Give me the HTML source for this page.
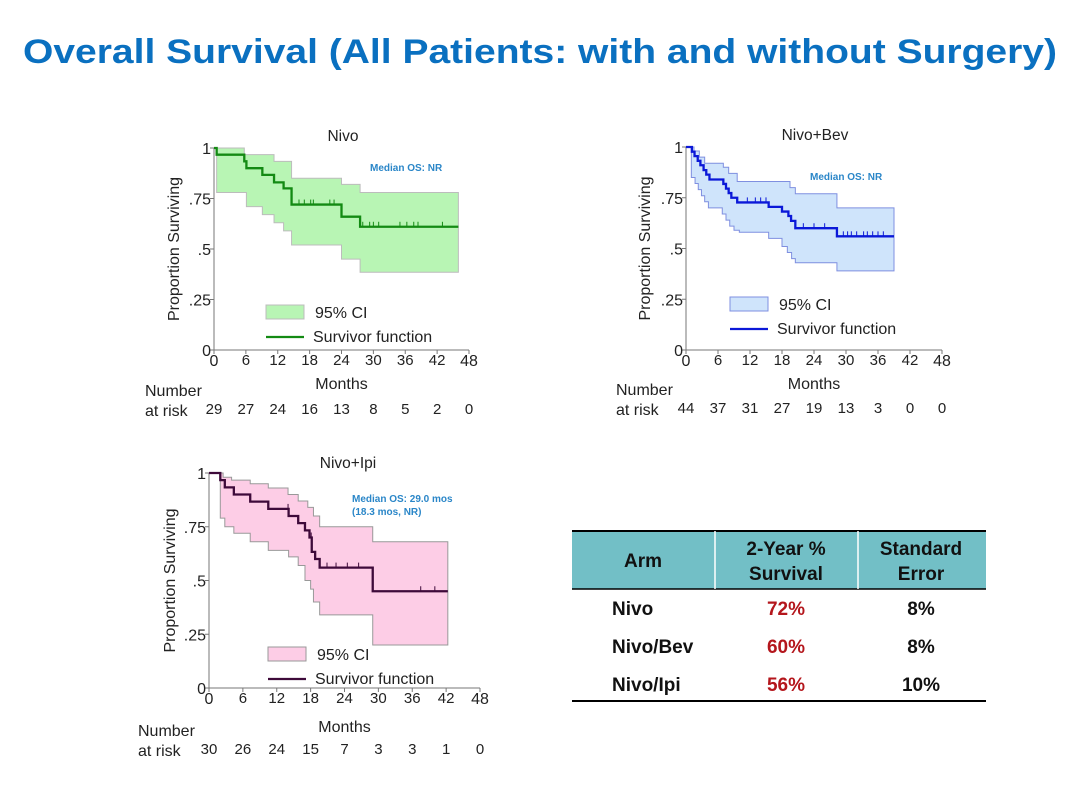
<!DOCTYPE html>
<html><head><meta charset="utf-8"><style>
html,body{margin:0;padding:0;background:#fff}
svg{display:block;font-family:"Liberation Sans",Arial,sans-serif}
</style></head><body>
<svg id="root" width="1080" height="810" viewBox="0 0 1080 810">
<text x="540" y="63" text-anchor="middle" font-size="34" font-weight="bold" fill="#0a70c0" textLength="1034" lengthAdjust="spacingAndGlyphs">Overall Survival (All Patients: with and without Surgery)</text>
<g id="charts"></g>
<g>
<rect x="572" y="531" width="414" height="58" fill="#72bfc6"/>
<line x1="572" y1="531" x2="986" y2="531" stroke="#000" stroke-width="2"/>
<line x1="572" y1="589" x2="986" y2="589" stroke="#000" stroke-width="1.5"/>
<line x1="715" y1="531" x2="715" y2="589" stroke="#fff" stroke-width="1.5"/>
<line x1="858" y1="531" x2="858" y2="589" stroke="#fff" stroke-width="1.5"/>
<line x1="572" y1="701" x2="986" y2="701" stroke="#000" stroke-width="2"/>
<g font-weight="bold" font-size="19" text-anchor="middle" fill="#111">
<text x="643" y="567">Arm</text>
<text x="786" y="555">2-Year %</text>
<text x="786" y="580">Survival</text>
<text x="921" y="555">Standard</text>
<text x="921" y="580">Error</text>
</g>
<g font-weight="bold" font-size="19" fill="#111">
<text x="612" y="615">Nivo</text>
<text x="612" y="653">Nivo/Bev</text>
<text x="612" y="691">Nivo/Ipi</text>
</g>
<g font-weight="bold" font-size="19" text-anchor="middle" fill="#b4161c">
<text x="786" y="615">72%</text><text x="786" y="653">60%</text><text x="786" y="691">56%</text>
</g>
<g font-weight="bold" font-size="19" text-anchor="middle" fill="#111">
<text x="921" y="615">8%</text><text x="921" y="653">8%</text><text x="921" y="691">10%</text>
</g>
</g>
</svg>
<script>
// Nivo
const nivoTimes=[0,0.5,5.7,6.1,9.1,11.3,13.1,14.6,24,27.5];
const nivoSurv=[1,0.967,0.934,0.9,0.867,0.83,0.8,0.72,0.66,0.61];
const nivoUpT=[0,5.7,11.3,14.6,24,27.5];
const nivoUp=[1,0.967,0.934,0.85,0.82,0.78];
const nivoLoT=[0,0.5,6.1,9.1,11.3,13.1,14.6,24,27.5];
const nivoLo=[1,0.78,0.71,0.67,0.63,0.59,0.52,0.45,0.385];
const nivoCens=[16,17,18.2,18.7,21.8,22.6,28,29.3,30,31,35,36.3,37.6,38.4,43];
const nivoEnd=46;
const nivoRisk=[29,27,24,16,13,8,5,2,0];
// Nivo+Bev
const bevTimes=[0,1.1,1.6,2.2,2.7,3.3,3.8,4.4,7,7.5,8,8.5,9.6,15.5,18,19.2,19.7,20.5,28.3];
const bevSurv=[1,.977,.955,.932,.91,.886,.864,.84,.818,.795,.773,.75,.727,.705,.682,.66,.636,.60,.56];
const bevUpT=[0,1.5,2.5,3.5,7,8,9.6,19.5,20.5,28.3];
const bevUp=[1,.98,.95,.92,.9,.87,.83,.8,.77,.7];
const bevLoT=[0,1,1.7,2.3,2.9,3.5,4.2,6.8,7.5,8.2,9,10,15.5,18,19,19.8,20.5,28.3];
const bevLo=[1,.85,.82,.79,.76,.73,.7,.67,.64,.61,.59,.58,.55,.51,.48,.45,.43,.39];
const bevCens=[11.5,13,14,15,22,24,26,29.5,30.3,31,32,33.3,34,35,36,37];
const bevEnd=39;
const bevRisk=[44,37,31,27,19,13,3,0,0];
// Nivo+Ipi
const ipiTimes=[0,2,2.8,4.4,7.3,10.5,14.1,15.8,17,17.8,18.2,18.8,19.6,29];
const ipiSurv=[1,.967,.933,.9,.867,.833,.8,.767,.733,.7,.633,.6,.56,.45];
const ipiUpT=[0,2.5,4,7.3,10.5,14,15.8,17.5,18.5,19.6,29];
const ipiUp=[1,.98,.967,.95,.93,.9,.87,.84,.8,.75,.68];
const ipiLoT=[0,2,2.8,4.4,7.3,10.5,14.1,15.8,17,18,18.5,19.6,29];
const ipiLo=[1,.79,.75,.72,.68,.64,.61,.57,.5,.46,.4,.34,.2];
const ipiCens=[14,18.1,20.9,22.5,24.5,26.5,37.5,40];
const ipiEnd=42.3;
const ipiRisk=[30,26,24,15,7,3,3,1,0];
const xTicks=[0,6,12,18,24,30,36,42,48];
const yTicks=[0,0.25,0.5,0.75,1];
const yTickLabels=["0",".25",".5",".75","1"];

const NS="http://www.w3.org/2000/svg";
const host=document.getElementById('charts');
function mk(tag,attrs,parent,txt){const e=document.createElementNS(NS,tag);for(const k in attrs)e.setAttribute(k,attrs[k]);if(txt!==undefined)e.textContent=txt;(parent||host).appendChild(e);return e;}
function stepPath(ts,vs,end,X,Y){let d='M'+X(ts[0])+','+Y(vs[0]);for(let i=1;i<ts.length;i++){d+=' H'+X(ts[i])+' V'+Y(vs[i]);}d+=' H'+X(end);return d;}
function stepPts(ts,vs,end,X,Y){const p=[[X(ts[0]),Y(vs[0])]];for(let i=1;i<ts.length;i++){p.push([X(ts[i]),Y(vs[i-1])]);p.push([X(ts[i]),Y(vs[i])]);}p.push([X(end),Y(vs[vs.length-1])]);return p;}

function chart(c){
  const g=mk('g',{});
  
  
  const X=t=>c.x0+(c.x1-c.x0)*t/48, Y=v=>c.y0+(c.y1-c.y0)*v;
  const up=stepPts(c.upT,c.up,c.end,X,Y), lo=stepPts(c.loT,c.lo,c.end,X,Y).reverse();
  const band=mk('polygon',{points:up.concat(lo).map(p=>p.join(',')).join(' '),fill:c.fill,stroke:c.bandStroke,'stroke-width':1},g);
  
  
  const ax=mk('path',{d:`M${c.x0},${c.y1} V${c.y0} H${c.x1}`,fill:'none',stroke:'#777','stroke-width':1},g);
  
  
  yTicks.forEach((v,i)=>{
    mk('line',{x1:c.x0-4,x2:c.x0,y1:Y(v),y2:Y(v),stroke:'#777'},g);
    const t=mk('text',{x:c.x0-3,y:Y(v)+6,'text-anchor':'end','font-size':16,fill:'#222'},g,yTickLabels[i]);
    
    
  });
  xTicks.forEach((v,i)=>{
    mk('line',{x1:X(v),x2:X(v),y1:c.y0,y2:c.y0+4,stroke:'#777'},g);
    const t=mk('text',{x:X(v),y:c.y0+(i==0||i==8?16:15),'text-anchor':'middle','font-size':(i==0||i==8)?16:15,fill:'#222'},g,String(v));
    
    
    const r=mk('text',{x:X(v),y:c.riskY,'text-anchor':'middle','font-size':15,fill:'#222'},g,String(c.risk[i]));
    
    
  });
  const s=mk('path',{d:stepPath(c.t,c.s,c.end,X,Y),fill:'none',stroke:c.line,'stroke-width':2.3},g);
  
  
  const sv=t=>{let v=c.s[0];for(let i=0;i<c.t.length;i++)if(c.t[i]<=t)v=c.s[i];return v;};
  c.cens.forEach(t=>{
    const m=mk('line',{x1:X(t),x2:X(t),y1:Y(sv(t)),y2:Y(sv(t))-5,stroke:c.line,'stroke-width':1},g);
    
    
  });
  const tt=mk('text',{x:c.titleX,y:c.titleY,'text-anchor':'middle','font-size':15.5,fill:'#222'},g,c.title);
  
  
  const yl=mk('text',{x:0,y:0,transform:`translate(${c.ylX},${(c.y0+c.y1)/2}) rotate(-90)`,'text-anchor':'middle','font-size':16,fill:'#222'},g,'Proportion Surviving');
  
  
  const xl=mk('text',{x:(c.x0+c.x1)/2,y:c.monthsY,'text-anchor':'middle','font-size':16,fill:'#222'},g,'Months');
  
  
  const n1=mk('text',{x:c.numX,y:c.riskY-18,'font-size':16,fill:'#222'},g,'Number');
  
  
  mk('text',{x:c.numX,y:c.riskY+2,'font-size':16,fill:'#222'},g,'at risk');
  c.median.forEach((m,i)=>{
    const md=mk('text',{x:c.medX,y:c.medY+i*13,'font-size':10,'font-weight':'bold',fill:'#2a86c8'},g,m);
    
    
  });
  const lb=mk('rect',{x:c.legX,y:c.legY,width:38,height:14,fill:c.fill,stroke:c.bandStroke},g);
  
  
  mk('text',{x:c.legX+49,y:c.legY+13,'font-size':16,fill:'#222'},g,'95% CI');
  const ll=mk('line',{x1:c.legX,x2:c.legX+38,y1:c.legY+32,y2:c.legY+32,stroke:c.line,'stroke-width':2.3},g);
  
  
  mk('text',{x:c.legX+47,y:c.legY+37,'font-size':16,fill:'#222'},g,'Survivor function');
}
chart({name:'nivo-chart',title:'Nivo',x0:214,x1:469,y0:350,y1:148,t:nivoTimes,s:nivoSurv,upT:nivoUpT,up:nivoUp,loT:nivoLoT,lo:nivoLo,cens:nivoCens,end:nivoEnd,risk:nivoRisk,
 fill:'#b8f5b4',bandStroke:'#bcbcbc',line:'#138a13',titleX:343,titleY:141,ylX:179,monthsY:389,riskY:414,numX:145,medX:370,medY:171,median:['Median OS: NR'],legX:266,legY:305});
chart({name:'nivo-bev-chart',title:'Nivo+Bev',x0:686,x1:942,y0:350,y1:147,t:bevTimes,s:bevSurv,upT:bevUpT,up:bevUp,loT:bevLoT,lo:bevLo,cens:bevCens,end:bevEnd,risk:bevRisk,
 fill:'#cfe4fb',bandStroke:'#7f8fe0',line:'#0b18d8',titleX:815,titleY:140,ylX:650,monthsY:389,riskY:413,numX:616,medX:810,medY:180,median:['Median OS: NR'],legX:730,legY:297});
chart({name:'nivo-ipi-chart',title:'Nivo+Ipi',x0:209,x1:480,y0:688,y1:473,t:ipiTimes,s:ipiSurv,upT:ipiUpT,up:ipiUp,loT:ipiLoT,lo:ipiLo,cens:ipiCens,end:ipiEnd,risk:ipiRisk,
 fill:'#fdcde6',bandStroke:'#999',line:'#3e0a3a',titleX:348,titleY:468,ylX:175,monthsY:732,riskY:754,numX:138,medX:352,medY:502,median:['Median OS: 29.0 mos','(18.3 mos, NR)'],legX:268,legY:647});
</script>
</body></html>
